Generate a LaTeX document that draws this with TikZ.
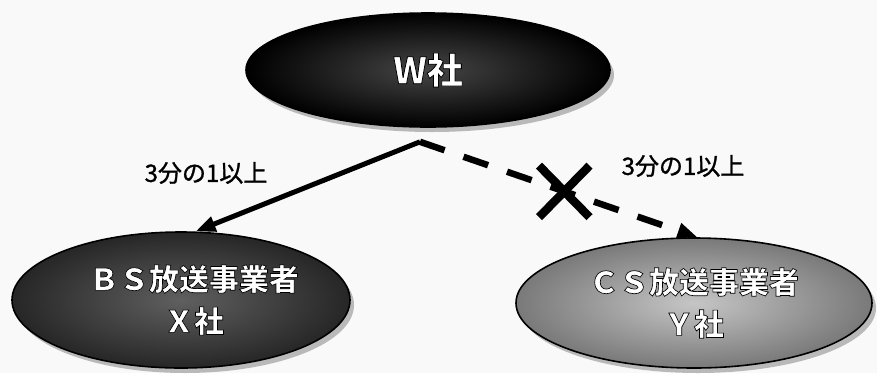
\documentclass[tikz,border=0pt]{standalone}
\usepackage{fontspec}
\setmainfont{Noto Sans CJK JP}
\newfontfamily\heavyjp{Noto Sans CJK JP}[BoldFeatures={FakeBold=2.2}]
\newfontfamily\midjp{Noto Sans CJK JP}[FakeBold=1.2]
\usetikzlibrary{positioning,arrows.meta,shapes.geometric,shapes.misc,shadows,calc}
% white lettering with a black rim
\newcommand\embtxt[1]{{\heavyjp\bfseries\color{white}\special{pdf:code 0 G}#1}}

\begin{document}
\begin{tikzpicture}[x=1pt, y=-1pt,
  firm/.style={ellipse, draw=black, line width=1.6pt, inner sep=0pt, align=center,
    font=\fontsize{30}{42}\selectfont,
    drop shadow={shadow xshift=4pt, shadow yshift=-5pt, fill=gray!55, opacity=1}},
  lbl/.style={font=\midjp\fontsize{24}{28}\selectfont, inner sep=0pt},
  arr/.style={-{Triangle[length=20pt,width=15pt]}, line width=5pt},
  nolink/.style={arr, line width=6.5pt, dash pattern=on 26pt off 20pt},
  banned/.style={cross out, draw, solid, line width=8.5pt, inner sep=0pt, minimum width=42, minimum height=43}]
\useasboundingbox[fill=gray!5] (0,0) rectangle (877,373);
\node[firm, minimum width=364, minimum height=114, inner color=gray!55!black, outer color=black,
  font=\fontsize{36}{40}\selectfont] (w) at (428,70) {\embtxt{W社}};
\node[firm, minimum width=338, minimum height=136, inner color=gray!75!black, outer color=black!85] (bsx) at (181,300)
  {\kern26pt\embtxt{ＢＳ放送事業者}\\\kern26pt\embtxt{Ｘ社}};
\node[firm, minimum width=356, minimum height=130, inner color=gray!45, outer color=gray!95!black] (csy) at (694,303)
  {\embtxt{ＣＳ放送事業者}\\\embtxt{Ｙ社}};
\coordinate (fork) at ([xshift=-8pt,yshift=-14pt]w.south);
\draw[arr] (fork) -- (bsx.78);
\draw[nolink] (fork) -- node[pos=0.52, banned] (ban) {} (csy.87);
\node[lbl] (lblL) at (206,173) {3分の1以上};
\node[lbl] (lblR) at (683,166) {3分の1以上};
\end{tikzpicture}
\end{document}
